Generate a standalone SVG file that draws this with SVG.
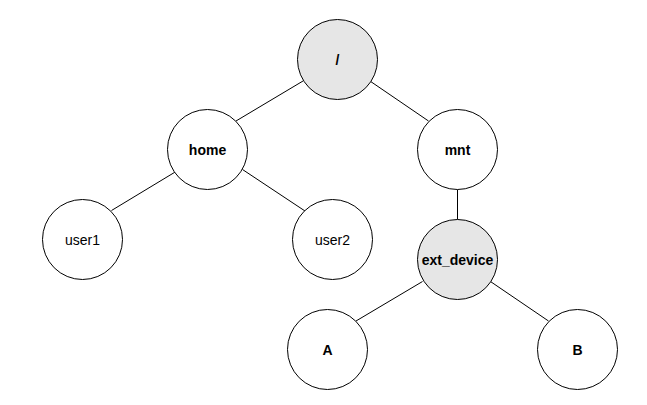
<svg xmlns="http://www.w3.org/2000/svg" width="647" height="405" viewBox="0 0 647 405">
<style>
.n{fill:#ffffff;stroke:#000000;stroke-width:1}
.g{fill:#e6e6e6}
.e{stroke:#000000;stroke-width:1;fill:none}
text{font-family:"Liberation Sans",Arial,Helvetica,sans-serif;font-size:14px;text-anchor:middle;fill:#000000}
.b{font-weight:bold}
</style>
<rect width="647" height="405" fill="#ffffff"/>
<g id="edges">
<line class="e" x1="303" y1="81" x2="236" y2="121"/>
<line class="e" x1="367" y1="79" x2="428.5" y2="121"/>
<line class="e" x1="457.5" y1="189.5" x2="457.5" y2="219.5"/>
<line class="e" x1="178.5" y1="170" x2="111.5" y2="210.5"/>
<line class="e" x1="242.5" y1="169.5" x2="305" y2="211"/>
<line class="e" x1="422.5" y1="281.5" x2="356" y2="321"/>
<line class="e" x1="487.5" y1="279.5" x2="548.5" y2="321"/>
</g>
<g id="root"><circle class="n g" cx="337.5" cy="59.5" r="40"/><text class="b" x="337.5" y="65">/</text></g>
<g id="home"><circle class="n" cx="207.5" cy="149.5" r="40"/><text class="b" x="207.5" y="155">home</text></g>
<g id="mnt"><circle class="n" cx="457.5" cy="149.5" r="40"/><text class="b" x="457.5" y="155">mnt</text></g>
<g id="user1"><circle class="n" cx="82.5" cy="239.5" r="40"/><text x="82.5" y="245">user1</text></g>
<g id="user2"><circle class="n" cx="332.5" cy="239.5" r="40"/><text x="332.5" y="245">user2</text></g>
<g id="ext_device"><circle class="n g" cx="457.5" cy="259.5" r="40"/><text class="b" x="457.5" y="265">ext_device</text></g>
<g id="A"><circle class="n" cx="327.5" cy="349.5" r="40"/><text class="b" x="327.5" y="355">A</text></g>
<g id="B"><circle class="n" cx="577.5" cy="349.5" r="40"/><text class="b" x="577.5" y="355">B</text></g>
</svg>
